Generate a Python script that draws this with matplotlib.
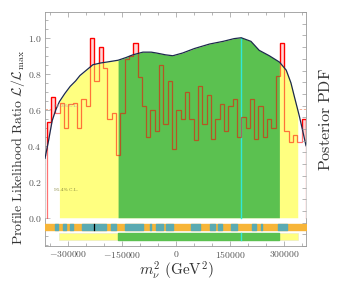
import numpy as np
import matplotlib
matplotlib.use('Agg')
import matplotlib.pyplot as plt
from matplotlib.ticker import MultipleLocator, FuncFormatter

plt.rcParams['mathtext.fontset'] = 'cm'
plt.rcParams['font.family'] = 'serif'

# profile likelihood histogram (bin edges in GeV^2)
edges = np.arange(-360000, 360001, 12000)
prof_like = [0.53, 0.67, 0.58, 0.64, 0.50, 0.63, 0.64, 0.50, 0.66, 0.62,
             1.00, 0.76, 0.95, 0.83, 0.55, 0.58, 0.35, 0.58, 0.88, 0.90,
             0.97, 0.78, 0.62, 0.45, 0.60, 0.48, 0.85, 0.52, 0.76, 0.38,
             0.60, 0.55, 0.70, 0.55, 0.43, 0.73, 0.52, 0.68, 0.44, 0.55,
             0.63, 0.48, 0.62, 0.66, 0.45, 0.56, 0.50, 0.66, 0.44, 0.62,
             0.45, 0.55, 0.50, 0.79, 0.97, 0.48, 0.42, 0.46, 0.42, 0.55]

# posterior pdf (scaled to max 1)
post_x = [-365000, -355000, -345000, -335000, -325000, -310000, -295000, -280000,
          -268000, -250000, -232000, -210000, -193000, -162000, -140000, -121000,
          -93000, -70000, -55000, -30000, -10000, 17000, 50000, 92000, 130000,
          160000, 180000, 207000, 230000, 258000, 286000, 305000, 318000, 328000,
          337000, 342000, 350000, 360000]
post_y = [0.33, 0.43, 0.54, 0.60, 0.645, 0.69, 0.73, 0.76,
          0.79, 0.82, 0.85, 0.86, 0.865, 0.875, 0.89, 0.905,
          0.92, 0.92, 0.915, 0.905, 0.90, 0.915, 0.94, 0.965, 0.98,
          0.995, 1.0, 0.98, 0.93, 0.90, 0.865, 0.82, 0.75, 0.67,
          0.60, 0.56, 0.49, 0.40]

# credible regions
cr95 = (-325000, 337000)
cr68 = (-162000, 286000)
post_mean = 180000
best_fit = -228000

# confidence intervals from profile likelihood (teal segments in strip)
teal_segs = [(-337100, -328000), (-314100, -307500), (-295600, -286400),
             (-263200, -195800), (-182800, -168100), (-143200, -92500),
             (-73900, -69300), (-55400, -37100), (-29600, -9400),
             (41600, 66500), (94200, 108000), (115200, 127400),
             (150400, 167900), (210500, 221600), (235500, 238200),
             (283400, 306400)]

xlim = (-365000, 360000)
ylim = (-0.157, 1.143)

c_yellow = '#ffff80'
c_green = '#5bc150'
c_orange = '#f7b538'
c_teal = '#5aaab2'
c_cyan = '#30e8d8'
c_curve = '#1c2a4e'
c_frame = '#999999'
c_text = '#333333'

fig = plt.figure(figsize=(3.53, 2.83), dpi=100)
ax = fig.add_axes([0.1275, 0.1307, 0.7394, 0.8269])

px = np.array(post_x)
py = np.array(post_y)

# dashed confidence-level lines
ax.axhline(np.exp(-0.5), color='#f4a080', lw=0.6, ls=(0, (3, 2)), zorder=1)
ax.axhline(np.exp(-2.0), color='#f4a080', lw=0.6, ls=(0, (3, 2)), zorder=1)

# histogram fill, then mask under the posterior
ax.stairs(prof_like, edges, fill=True, color='#ffd6d6', zorder=2)
ax.fill_between(px, 0, py, color='white', lw=0, zorder=3)

def region(lo, hi):
    m = (px >= lo) & (px <= hi)
    xs = np.concatenate([[lo], px[m], [hi]])
    ys = np.concatenate([[np.interp(lo, px, py)], py[m], [np.interp(hi, px, py)]])
    return xs, ys

xs, ys = region(cr95[0], cr95[1])
ax.fill_between(xs, 0, ys, color=c_yellow, lw=0, zorder=4)
xs, ys = region(cr68[0], cr68[1])
ax.fill_between(xs, 0, ys, color=c_green, lw=0, zorder=4)
ax.plot([post_mean, post_mean], [0, np.interp(post_mean, px, py)], color=c_cyan, lw=1.0, zorder=5)

ax.stairs(prof_like, edges, color='red', lw=0.9, zorder=2.5)
ax.stairs(prof_like, edges, color='red', lw=0.9, alpha=0.55, zorder=6)
ax.plot(px, py, color=c_curve, lw=0.9, zorder=7)

ax.text(-340000, 0.615, '68.3% C.L.', fontsize=3.2, color='#b0a0a0', zorder=8)
ax.text(-340000, 0.15, '95.4% C.L.', fontsize=3.2, color='#8a8a40', zorder=8)

# interval strips below the axis
ax.broken_barh([(xlim[0], xlim[1] - xlim[0])], (-0.068, 0.031), color=c_orange, zorder=4)
ax.broken_barh([(a, b - a) for a, b in teal_segs], (-0.068, 0.031), color=c_teal, zorder=5)
ax.plot([best_fit, best_fit], [-0.068, -0.037], color='black', lw=0.9, zorder=6)

ax.broken_barh([(cr95[0], cr95[1] - cr95[0])], (-0.121, 0.034), color=c_yellow,
               edgecolor='#e8e8c0', lw=0.4, zorder=4)
ax.broken_barh([(cr68[0], cr68[1] - cr68[0])], (-0.121, 0.034), color=c_green, zorder=5)
ax.plot([post_mean, post_mean], [-0.121, -0.087], color=c_cyan, lw=1.0, zorder=6)

ax.set_xlim(*xlim)
ax.set_ylim(*ylim)

ax.xaxis.set_major_locator(MultipleLocator(150000))
ax.xaxis.set_minor_locator(MultipleLocator(50000))
ax.yaxis.set_major_locator(MultipleLocator(0.2))
ax.yaxis.set_minor_locator(MultipleLocator(0.05))
ax.xaxis.set_major_formatter(FuncFormatter(lambda v, p: r'$%d$' % round(v)))
ax.yaxis.set_major_formatter(FuncFormatter(lambda v, p: r'$%.1f$' % v if v >= -1e-9 else ''))
ax.tick_params(which='both', direction='in', top=True, right=False, colors=c_frame,
               labelcolor='#555555', labelsize=7, width=0.5, pad=2.5)
ax.tick_params(which='major', length=3.5)
ax.tick_params(which='minor', length=2)
for s in ax.spines.values():
    s.set_color(c_frame)
    s.set_linewidth(0.6)

ax2 = ax.twinx()
ax2.set_ylim(0, 2.0)
ax2.yaxis.set_major_locator(MultipleLocator(0.1))
ax2.tick_params(which='both', direction='in', colors=c_frame, labelright=False,
                width=0.5, length=3)
for s in ax2.spines.values():
    s.set_visible(False)

fig.text(176 / 353, 1 - 271 / 283, r'$m_\nu^2\ (\mathrm{GeV}^2)$', fontsize=11, color=c_text,
         ha='center', va='center')
fig.text(18 / 353, 1 - 147 / 283,
         r'$\mathrm{Profile\ Likelihood\ Ratio}\ \mathcal{L}/\mathcal{L}_\mathrm{max}$',
         fontsize=10, color=c_text, rotation=90, ha='center', va='center')
fig.text(325 / 353, 1 - 120 / 283, r'$\mathrm{Posterior\ PDF}$', fontsize=11.5,
         color=c_text, rotation=90, ha='center', va='center')

fig.savefig('out.png', dpi=100)
